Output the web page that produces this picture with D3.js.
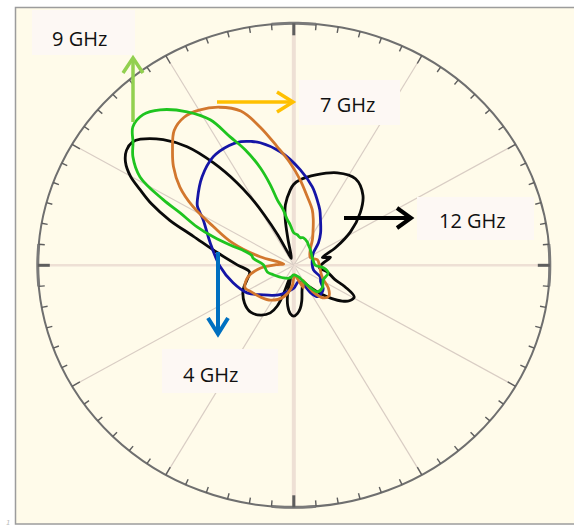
<!DOCTYPE html>
<html>
<head>
<meta charset="utf-8">
<script src="https://cdn.jsdelivr.net/npm/d3@7"></script>
<style>
  html, body { margin: 0; padding: 0; background: #ffffff; }
  svg { display: block; }
</style>
</head>
<body>
<svg id="chart" width="574" height="527"></svg>
<script>
// Radiation patterns: angle in degrees (clockwise from top), relative field magnitude (0..1)
const angles4GHz = [3.6, 12.6, 19, 24, 29, 38, 46, 56, 67, 85, 104, 115, 123, 130, 136, 144, 150, 156, 165, 180, 192, 204, 214, 224, 238, 253, 269, 286, 298, 303, 306, 315.6, 325, 333, 338, 342, 345.5, 353.6];
const gain4GHz   = [0.396, 0.332, 0.283, 0.25, 0.215, 0.17, 0.134, 0.092, 0.079, 0.072, 0.079, 0.114, 0.125, 0.15, 0.158, 0.16, 0.13, 0.08, 0.07, 0.095, 0.11, 0.133, 0.15, 0.17, 0.215, 0.248, 0.288, 0.34, 0.401, 0.449, 0.465, 0.512, 0.548, 0.556, 0.551, 0.538, 0.523, 0.472];

const angles7GHz = [4, 10.6, 17.5, 22, 28, 34.6, 45, 64, 76, 90, 100, 110, 117, 125, 133, 140, 146, 151, 158, 165, 175, 185, 198, 212, 225, 237, 244, 255, 265, 272, 278, 283, 285, 291, 297, 301.6, 306, 311, 315, 320, 325, 330, 336, 342, 347, 352.5, 358];
const gain7GHz   = [0.354, 0.288, 0.24, 0.203, 0.16, 0.128, 0.091, 0.072, 0.095, 0.1, 0.105, 0.115, 0.13, 0.165, 0.187, 0.175, 0.13, 0.07, 0.1, 0.06, 0.04, 0.09, 0.14, 0.17, 0.185, 0.2, 0.212, 0.185, 0.13, 0.07, 0.04, 0.06, 0.136, 0.255, 0.353, 0.462, 0.55, 0.623, 0.67, 0.727, 0.747, 0.74, 0.715, 0.67, 0.587, 0.494, 0.424];

const angles9GHz = [0, 6, 12.5, 18, 28.6, 33.8, 45.4, 66.7, 90, 95, 103, 117.5, 129.8, 140, 150, 160, 181, 195, 218, 244, 255, 271, 280, 284, 287, 288.5, 290.5, 292.8, 296, 298, 301.3, 305.5, 308.9, 312.3, 316.6, 320.9, 326.7, 331.5, 334.9, 338.3, 342, 344.6, 346.6, 349.8, 352.3, 355];
const gain9GHz   = [0.134, 0.127, 0.117, 0.12, 0.11, 0.102, 0.091, 0.079, 0.084, 0.116, 0.138, 0.13, 0.145, 0.143, 0.08, 0.05, 0.04, 0.054, 0.066, 0.089, 0.107, 0.119, 0.16, 0.17, 0.2, 0.26, 0.336, 0.41, 0.494, 0.578, 0.703, 0.772, 0.807, 0.85, 0.857, 0.828, 0.759, 0.684, 0.586, 0.514, 0.424, 0.345, 0.278, 0.233, 0.19, 0.17];

const angles12GHz = [0, 4, 13, 24, 34, 43, 50, 58, 66, 74, 77, 85, 95, 102, 110, 114, 119, 124, 128, 133, 138, 145, 152, 158, 163, 168, 172, 176, 180, 184, 188, 191, 194, 197, 199, 201, 205, 212, 221, 231, 243, 252, 261, 270.5, 280, 287, 291, 294.5, 297.5, 300, 303, 306, 309, 311, 315.5, 319.6, 323.4, 327, 329, 331, 333.5, 336, 342, 348, 350, 352.5, 357.5];
const gain12GHz   = [0.335, 0.354, 0.383, 0.418, 0.431, 0.396, 0.339, 0.261, 0.178, 0.116, 0.147, 0.116, 0.1, 0.134, 0.17, 0.22, 0.27, 0.262, 0.24, 0.2, 0.16, 0.11, 0.08, 0.09, 0.11, 0.15, 0.18, 0.2, 0.21, 0.2, 0.17, 0.13, 0.05, 0.06, 0.13, 0.18, 0.217, 0.243, 0.257, 0.248, 0.222, 0.192, 0.175, 0.221, 0.304, 0.41, 0.519, 0.61, 0.677, 0.737, 0.784, 0.808, 0.81, 0.794, 0.728, 0.643, 0.528, 0.406, 0.33, 0.24, 0.14, 0.06, 0.03, 0.108, 0.191, 0.252, 0.312];

const seriesNames  = ["12 GHz", "4 GHz", "7 GHz", "9 GHz"];
const seriesColors = ["#0a0a0a", "#1515a6", "#d2772e", "#1fc41f"];
const seriesAngles = [angles12GHz, angles4GHz, angles7GHz, angles9GHz];
const seriesGains  = [gain12GHz, gain4GHz, gain7GHz, gain9GHz];

// Grid: spokes every 30 degrees, ticks every 5 degrees
const spokeAngles = d3.range(0, 360, 30);
const tickAngles  = d3.range(0, 360, 5);

// Callout labels and their arrows
const labelTexts = ["9 GHz", "7 GHz", "12 GHz", "4 GHz"];
const labelColors = ["#92d050", "#ffc000", "#000000", "#0070c0"];

const svg = d3.select("#chart");
const W = 574, H = 527;
const CX = 293.8, CY = 265.3, RX = 256, RY = 242;

const angleScale = d3.scaleLinear().domain([0, 360]).range([0, 2 * Math.PI]);
const rxScale = d3.scaleLinear().domain([0, 1]).range([0, RX]);
const ryScale = d3.scaleLinear().domain([0, 1]).range([0, RY]);
const px = (deg, r) => CX + rxScale(r) * Math.sin(angleScale(deg));
const py = (deg, r) => CY - ryScale(r) * Math.cos(angleScale(deg));

// Frame
svg.append("rect").attr("width", W).attr("height", H).attr("fill", "#ffffff");
svg.append("rect")
  .attr("x", 15.5).attr("y", 7.5).attr("width", 620).attr("height", 516.5)
  .attr("fill", "#fffbea").attr("stroke", "#9c9c9c").attr("stroke-width", 1.5);
svg.append("text").attr("x", 6).attr("y", 525).attr("font-family", "DejaVu Sans")
  .attr("font-size", 7).attr("font-style", "italic").attr("fill", "#bbbbbb").text("1");

// Spokes
const grid = svg.append("g");
grid.selectAll("line.spoke").data(spokeAngles).join("line")
  .attr("class", "spoke")
  .attr("x1", CX).attr("y1", CY)
  .attr("x2", d => px(d, 1)).attr("y2", d => py(d, 1))
  .attr("stroke", d => d % 90 === 0 ? "#eee0d5" : "#d9cdc4")
  .attr("stroke-width", d => d % 90 === 0 ? (d % 180 === 0 ? 4 : 2.5) : 1.2);

// Outer circle
grid.append("ellipse")
  .attr("cx", CX).attr("cy", CY).attr("rx", RX).attr("ry", RY)
  .attr("fill", "none").attr("stroke", "#6f6f6f").attr("stroke-width", 2);

// Heavier rim segments at the four axis crossings
const rimArc = d3.line().x(d => px(d, 1)).y(d => py(d, 1));
[0, 90, 180, 270].forEach(a => {
  grid.append("path")
    .attr("d", rimArc(d3.range(a - 5, a + 5.01, 1)))
    .attr("fill", "none").attr("stroke", "#7a7a7a").attr("stroke-width", 3);
});

// Ticks
const tickLen = d => d % 90 === 0 ? 12 : (d % 30 === 0 ? 9 : 6);
grid.selectAll("line.tick").data(tickAngles).join("line")
  .attr("class", "tick")
  .attr("x1", d => px(d, 1)).attr("y1", d => py(d, 1))
  .attr("x2", d => px(d, 1 - tickLen(d) / RX)).attr("y2", d => py(d, 1 - tickLen(d) / RY))
  .attr("stroke", "#5e5e5e")
  .attr("stroke-width", d => d % 90 === 0 ? 3 : 1.4);

// Pattern curves
const patternLine = d3.line()
  .x(d => px(d[0], d[1]))
  .y(d => py(d[0], d[1]))
  .curve(d3.curveCatmullRomClosed.alpha(0.5));

const series = seriesNames.map((name, i) => ({
  name,
  color: seriesColors[i],
  points: seriesAngles[i].map((a, j) => [a, seriesGains[i][j]])
}));

svg.append("g").selectAll("path").data(series).join("path")
  .attr("d", d => patternLine(d.points))
  .attr("fill", "none")
  .attr("stroke", d => d.color)
  .attr("stroke-width", 2.8)
  .attr("stroke-linejoin", "round");

// Callouts
const callouts = [
  { text: labelTexts[0], color: labelColors[0], box: [32, 10, 103, 45], tx: 52, ty: 46,
    line: [[133, 122], [133, 58]], head: [[123, 73], [133, 58], [143, 73]], w: 3.5 },
  { text: labelTexts[1], color: labelColors[1], box: [299, 80, 101, 45], tx: 320, ty: 112,
    line: [[217, 102], [293, 102]], head: [[277, 92], [293, 102], [277, 112]], w: 3.5 },
  { text: labelTexts[2], color: labelColors[2], box: [417, 197, 117, 43], tx: 439, ty: 228,
    line: [[344, 218], [411, 218]], head: [[397, 208], [411, 218], [397, 228]], w: 4 },
  { text: labelTexts[3], color: labelColors[3], box: [162, 349, 116, 44], tx: 183, ty: 382,
    line: [[218, 252], [218, 334]], head: [[208, 318], [218, 334], [228, 318]], w: 4 }
];

const cg = svg.append("g");
callouts.forEach(c => {
  cg.append("rect").attr("x", c.box[0]).attr("y", c.box[1])
    .attr("width", c.box[2]).attr("height", c.box[3]).attr("fill", "#fdf8f4");
  cg.append("text").attr("x", c.tx).attr("y", c.ty)
    .attr("font-family", "'Open Sans', sans-serif").attr("font-size", 20)
    .attr("fill", "#111111").text(c.text);
  cg.append("path").attr("d", d3.line()(c.line))
    .attr("stroke", c.color).attr("stroke-width", c.w).attr("fill", "none");
  cg.append("path").attr("d", d3.line()(c.head))
    .attr("stroke", c.color).attr("stroke-width", c.w).attr("fill", "none")
    .attr("stroke-linejoin", "miter");
});
</script>
</body>
</html>
